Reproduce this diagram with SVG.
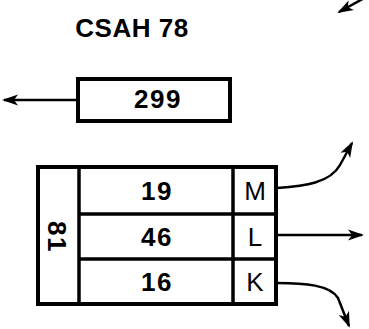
<svg xmlns="http://www.w3.org/2000/svg" width="369" height="329" viewBox="0 0 369 329">
<style>
.box{fill:#fff;stroke:#000;stroke-width:4}
.ln{fill:none;stroke:#000;stroke-width:3.5}
.con{fill:none;stroke:#000;stroke-width:2.5}
.num{font-family:"Liberation Sans",Arial,sans-serif;font-weight:bold;font-size:26px;text-anchor:middle;letter-spacing:1.5px}
.let{font-family:"Liberation Sans",Arial,sans-serif;font-size:26px;text-anchor:middle}
.title{font-family:"Liberation Sans",Arial,sans-serif;font-weight:bold;font-size:26px;text-anchor:middle;letter-spacing:0.5px}
</style>
<defs>
<marker id="ah" markerUnits="userSpaceOnUse" markerWidth="18" markerHeight="14" refX="14" refY="7" orient="auto">
<path d="M0,1.5 L16,7 L0,12.5 L4,7 Z" fill="#000"/>
</marker>
</defs>
<g id="title"><text class="title" x="132" y="37">CSAH 78</text></g>
<g id="node-299">
<rect class="box" x="78" y="79" width="152" height="42"/>
<text class="num" x="158" y="108">299</text>
</g>
<g id="node-table">
<rect class="box" x="38" y="167" width="238" height="137"/>
<line class="ln" x1="79" y1="167" x2="79" y2="304"/>
<line class="ln" x1="233" y1="167" x2="233" y2="304"/>
<line class="ln" x1="79" y1="214" x2="276" y2="214"/>
<line class="ln" x1="79" y1="259" x2="276" y2="259"/>
<text class="num" transform="translate(57,237) rotate(90)" y="9">81</text>
<text class="num" x="157" y="200">19</text>
<text class="num" x="157" y="246">46</text>
<text class="num" x="157" y="291">16</text>
<text class="let" x="255" y="200">M</text>
<text class="let" x="255" y="246">L</text>
<text class="let" x="255" y="291">K</text>
</g>
<g id="connectors">
<line class="con" x1="78" y1="100" x2="4" y2="100" marker-end="url(#ah)"/>
<path class="con" d="M277,188 C305,186 330,183 340,165 L352,143" marker-end="url(#ah)"/>
<line class="con" x1="277" y1="235" x2="362" y2="235" marker-end="url(#ah)"/>
<path class="con" d="M277,283 C305,283 330,285 338,298 L349,326" marker-end="url(#ah)"/>
<line class="con" x1="368" y1="-4" x2="339" y2="12" marker-end="url(#ah)"/>
</g>
</svg>
